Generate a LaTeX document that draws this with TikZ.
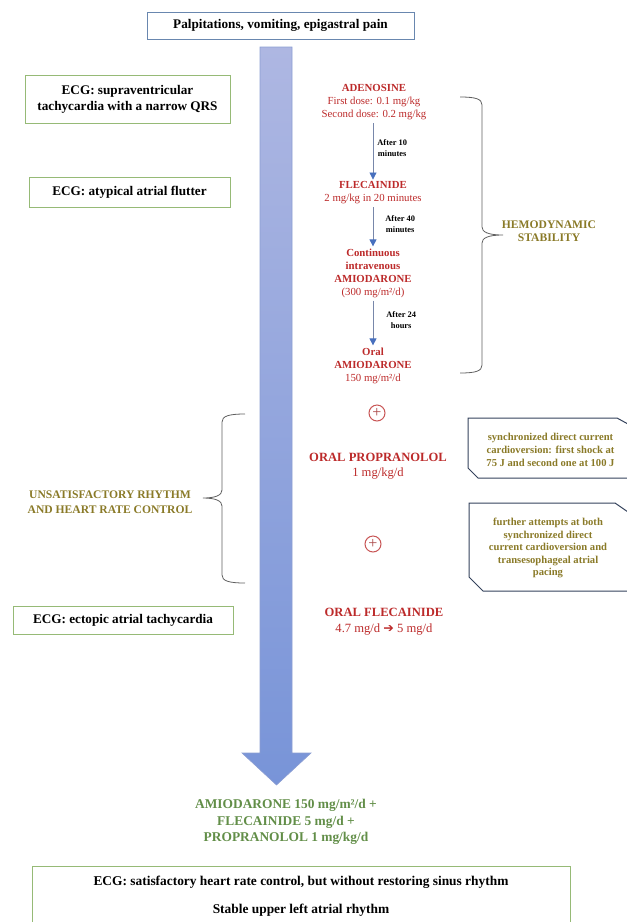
\documentclass[tikz,border=0pt]{standalone}
\usepackage{fontspec}
\setmainfont{Liberation Serif}
\newfontfamily\dejavu{DejaVu Sans}
\usetikzlibrary{arrows.meta}
\definecolor{redtxt}{RGB}{188,42,42}
\definecolor{olivetxt}{RGB}{138,122,40}
\definecolor{greentxt}{RGB}{98,142,72}
\definecolor{greenbox}{RGB}{150,186,118}
\definecolor{bluebox}{RGB}{105,135,175}
\definecolor{arrowtop}{RGB}{174,183,226}
\definecolor{arrowbot}{RGB}{120,148,216}
\definecolor{arrowedge}{RGB}{140,158,210}
\definecolor{smallline}{RGB}{120,135,170}
\definecolor{smalltip}{RGB}{72,112,190}
\definecolor{bracegray}{RGB}{95,95,95}
\definecolor{callout}{RGB}{52,66,92}
\definecolor{pluscol}{RGB}{200,85,85}
\tikzset{
  ecgbox/.style={draw=greenbox, line width=1pt, inner sep=0pt, align=center,
    font=\fontsize{13.2}{16}\selectfont\bfseries},
  drug/.style={text=redtxt, align=center, inner sep=1pt,
    font=\fontsize{10.8}{13}\selectfont},
  bigdrug/.style={text=redtxt, align=center, inner sep=1pt,
    font=\fontsize{12.6}{15.5}\selectfont},
  afterlbl/.style={align=center, inner sep=0pt,
    font=\fontsize{8.4}{11.5}\selectfont\bfseries},
  olivelbl/.style={text=olivetxt, align=center, inner sep=0pt,
    font=\fontsize{11.6}{13}\selectfont\bfseries},
  callouttxt/.style={text=olivetxt, align=center, inner sep=0pt,
    font=\fontsize{10.6}{13}\selectfont\bfseries},
  smallarrow/.style={draw=smallline, line width=0.8pt, shorten <=2pt, shorten >=1pt,
    -{Triangle[length=7pt,width=7pt,color=smalltip]}},
  bracestyle/.style={draw=bracegray, line width=0.8pt},
  calloutbox/.style={draw=callout, line width=1pt},
  plusnode/.style={circle, draw=pluscol, line width=1pt, minimum size=16pt,
    inner sep=0pt, text=pluscol!85!black, font=\fontsize{16}{16}\selectfont},
}
\begin{document}
\begin{tikzpicture}[x=1pt,y=-1pt]
\useasboundingbox (0,0) rectangle (627,922);

% big arrow
\shade[top color=arrowtop, bottom color=arrowbot, draw=arrowedge, line width=0.6pt]
  (260,47) -- (292,47) -- (292,753) -- (311,753) -- (276.5,785) -- (242,753) -- (260,753) -- cycle;

% top box
\node[draw=bluebox, line width=1pt, minimum width=267pt, minimum height=27pt,
  font=\fontsize{13.2}{16}\selectfont\bfseries] (top) at (280.5,25.5)
  {Palpitations, vomiting, epigastral pain};

% ECG boxes
\node[ecgbox, minimum width=205pt, minimum height=48pt] (ecg1) at (127.5,99)
  {ECG: supraventricular\\tachycardia with a narrow QRS};
\node[ecgbox, minimum width=201pt, minimum height=30pt] (ecg2) at (129.5,192)
  {ECG: atypical atrial flutter};
\node[ecgbox, minimum width=220pt, minimum height=28pt] (ecg3) at (123,620)
  {ECG: ectopic atrial tachycardia};

% drug sequence
\node[drug] (adeno) at (374,102.5)
  {\textbf{ADENOSINE}\\First dose: 0.1 mg/kg\\Second dose: 0.2 mg/kg};
\node[drug] (flec) at (373,193)
  {\textbf{FLECAINIDE}\\2 mg/kg in 20 minutes};
\node[drug] (amioiv) at (373,273)
  {\textbf{Continuous}\\\textbf{intravenous}\\\textbf{AMIODARONE}\\(300 mg/m²/d)};
\node[drug] (amioor) at (373,365.5)
  {\textbf{Oral}\\\textbf{AMIODARONE}\\150 mg/m²/d};

\draw[smallarrow] (adeno.south -| 373,0) -- (flec.north -| 373,0)
  node[afterlbl, pos=0.45, right=4pt] (a10) {After 10\\minutes};
\draw[smallarrow] (flec.south -| 373,0) -- (amioiv.north -| 373,0)
  node[afterlbl, pos=0.45, right=12pt] (a40) {After 40\\minutes};
\draw[smallarrow] (amioiv.south -| 373,0) -- (amioor.north -| 373,0)
  node[afterlbl, pos=0.45, right=13pt] (a24) {After 24\\hours};

% right brace and label
\draw[bracestyle] (460,97) .. controls (476,97) and (482,99) .. (482,105)
  -- (482,227) .. controls (482,232) and (488,235) .. (503,235)
  .. controls (488,235) and (482,238) .. (482,243)
  -- (482,365) .. controls (482,371) and (476,373) .. (460,373);
\node[olivelbl] (hemo) at (549,231.5) {HEMODYNAMIC\\STABILITY};

% plus signs and propranolol
\node[plusnode] (plus1) at (377,413) {+};
\node[bigdrug] (prop) at (378,466) {\textbf{ORAL PROPRANOLOL}\\1 mg/kg/d};
\node[plusnode] (plus2) at (373,544) {+};
\node[bigdrug] (oflec) at (384,621.5)
  {\textbf{ORAL FLECAINIDE}\\4.7 mg/d {\dejavu\bfseries ➔} 5 mg/d};

% left brace and label
\draw[bracestyle] (245,414) .. controls (229,414) and (222,416) .. (222,422)
  -- (222,490) .. controls (222,495) and (216,498) .. (203,498)
  .. controls (216,498) and (222,501) .. (222,506)
  -- (222,575) .. controls (222,581) and (229,583) .. (245,583);
\node[olivelbl, font=\fontsize{11.6}{15.5}\selectfont\bfseries] (unsat) at (110,502)
  {UNSATISFACTORY RHYTHM\\AND HEART RATE CONTROL};

% callouts
\draw[calloutbox] (468,418) -- (617,418) -- (628,424) -- (628,478) -- (478,478) -- (468,468) -- cycle;
\node[callouttxt] (cv1) at (550.5,449.5)
  {synchronized direct current\\cardioversion: first shock at\\75 J and second one at 100 J};
\draw[calloutbox] (469,503) -- (615,503) -- (628,512) -- (628,591) -- (483,591) -- (469,577) -- cycle;
\node[callouttxt, font=\fontsize{10.6}{12.5}\selectfont\bfseries] (cv2) at (548,548)
  {further attempts at both\\synchronized direct\\current cardioversion and\\transesophageal atrial\\pacing};

% final therapy
\node[text=greentxt, align=center, inner sep=0pt,
  font=\fontsize{13.4}{16.5}\selectfont\bfseries] (final) at (286,822)
  {AMIODARONE 150 mg/m²/d +\\FLECAINIDE 5 mg/d +\\PROPRANOLOL 1 mg/kg/d};

% bottom box
\draw[draw=greenbox, line width=1pt] (32,866) rectangle (570,935);
\node[font=\fontsize{13.4}{16}\selectfont\bfseries, inner sep=0pt] (res1) at (301,882)
  {ECG: satisfactory heart rate control, but without restoring sinus rhythm};
\node[font=\fontsize{13.4}{16}\selectfont\bfseries, inner sep=0pt] (res2) at (301,910)
  {Stable upper left atrial rhythm};
\end{tikzpicture}
\end{document}
